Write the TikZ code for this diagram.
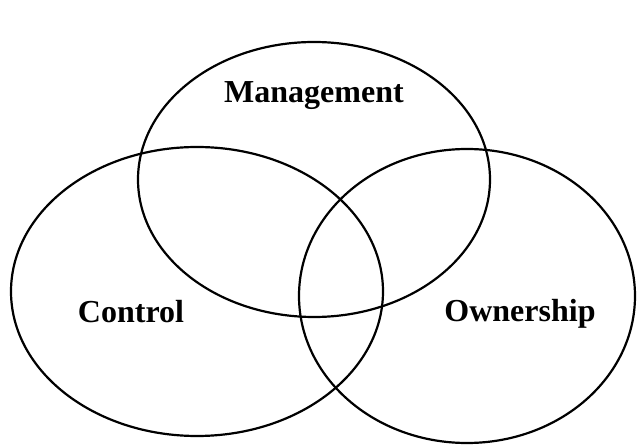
\documentclass[tikz,border=0pt]{standalone}
\usepackage{fontspec}
\setmainfont{Liberation Serif}
\usepackage{tikz}

\tikzset{
  circ/.style={draw=black,line width=2.2pt},
  lab/.style={font=\fontsize{32}{38}\selectfont\bfseries,anchor=base,inner sep=0pt}
}

\begin{document}
\begin{tikzpicture}[x=1pt,y=-1pt]
  \useasboundingbox (0,0) rectangle (638,446);
  % the three sets
  \draw[circ] (314,179.5) ellipse [x radius=176, y radius=137.5];
  \draw[circ] (197,291.5) ellipse [x radius=186, y radius=144.5];
  \draw[circ] (467,296) ellipse [x radius=168, y radius=147];
  % labels
  \node[lab] (management) at (314,103) {Management};
  \node[lab] (control) at (131,323) {Control};
  \node[lab] (ownership) at (520,322) {Ownership};
\end{tikzpicture}
\end{document}
